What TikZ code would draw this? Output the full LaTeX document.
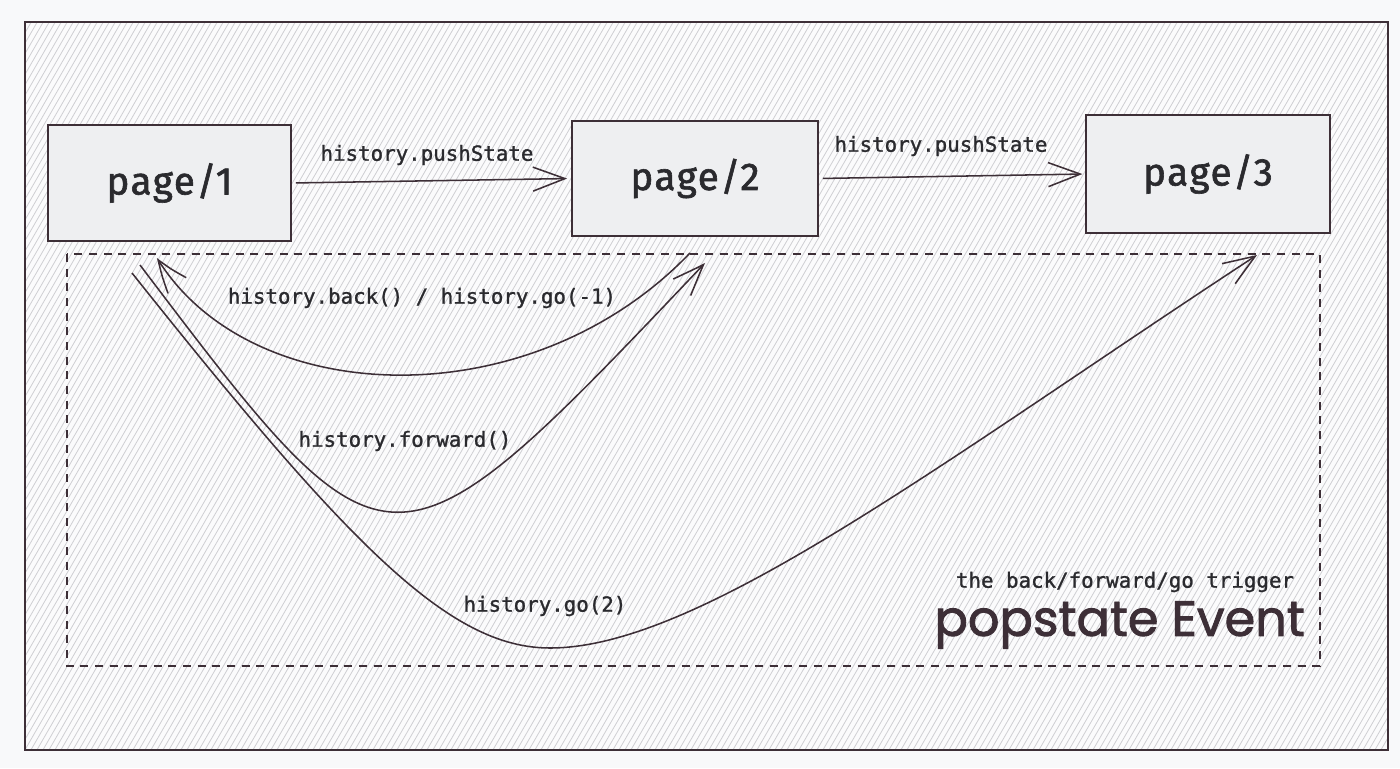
\documentclass[tikz,border=0pt]{standalone}
\usepackage{fontspec}
\usetikzlibrary{arrows.meta,bending}
\newfontfamily\monofont{DejaVu Sans Mono}[FakeBold=1.2]
\newfontfamily\pagefont{Fira Sans}[LetterSpace=4,FakeBold=1.6]
\newfontfamily\handfont{Poppins}[FakeBold=1.8]
\definecolor{ink}{HTML}{3D2F37}
\definecolor{txt}{HTML}{2A2A2E}
\definecolor{boxfill}{HTML}{EEEFF1}
\definecolor{hatchc}{HTML}{CFCFD3}
\definecolor{paper}{HTML}{F8F9FA}
\definecolor{innerc}{HTML}{FBFBFC}
\begin{document}
\begin{tikzpicture}[x=0.75pt,y=-0.75pt,
  pagebox/.style={draw=ink, line width=1.3pt, fill=boxfill, text=txt, inner sep=0pt,
    font=\pagefont\fontsize{29}{33}\selectfont},
  codelabel/.style={text=txt, inner sep=1pt, font=\monofont\fontsize{15.6}{18}\selectfont},
  arr/.style={ink, line width=1.15pt, -{Straight Barb[length=24pt,width=18pt,line width=1.15pt,bend]}},
  hatchline/.style={hatchc, line width=0.6pt},
  regionbox/.style={ink, line width=1pt, dash pattern=on 6pt off 5pt}
]
\useasboundingbox[fill=paper] (0,0) rectangle (1400,768);
% frame with hachure
\fill[innerc] (25,22) rectangle (1388,750);
\begin{scope}
  \clip (25,22) rectangle (1388,750);
  \foreach \i in {-440,-434,...,1390} \draw[hatchline] (\i,755) -- ++(425,-736);
\end{scope}
\draw[ink, line width=1.3pt] (25,22) rectangle (1388,750);

% dashed region
\draw[regionbox] (67,254) rectangle (1320,666);

% pages
\node[pagebox, minimum width=182.25pt, minimum height=87pt] (p1) at (169.5,183) {page/1};
\node[pagebox, minimum width=184.5pt, minimum height=86.25pt] (p2) at (695,178.5) {page/2};
\node[pagebox, minimum width=183pt, minimum height=88.5pt] (p3) at (1208,174) {page/3};

% pushState arrows
\draw[arr, shorten <=3pt, shorten >=3pt] (p1.east) -- (p2.west);
\draw[arr, shorten <=3pt, shorten >=2pt] (p2.east) -- (p3.west);
\node[codelabel] (l1) at (427,155) {history.pushState};
\node[codelabel] (l2) at (941,146) {history.pushState};

% endpoints near the pages
\coordinate (backstart) at (690,253);
\coordinate (backend) at (157,258);
\coordinate (fwdstart) at (140,265);
\coordinate (fwdend) at (705,263);
\coordinate (gostart) at (132,273);
\coordinate (goend) at (1257,255);
\coordinate (gobottom) at (550,648);

% back
\draw[arr] (backstart) .. controls (530,420) and (250,410) .. (backend);
\node[codelabel] (l3) at (422,298) {history.back() / history.go(-1)};
% forward
\draw[arr] (fwdstart) .. controls (390,595) and (390,595) .. (fwdend);
\node[codelabel] (l4) at (405,441) {history.forward()};
% go(2)
\draw[arr] (gostart) .. controls (351,548) and (450,648) .. (gobottom)
  .. controls (700,648) and (941,462) .. (goend);
\node[codelabel] (l5) at (545,606) {history.go(2)};

% popstate caption
\node[codelabel] (l6) at (1125,582) {the back/forward/go trigger};
\node[text=ink, inner sep=0pt, anchor=east, font=\handfont\fontsize{37}{42}\selectfont] (l7) at (1305,625) {popstate Event};
\end{tikzpicture}
\end{document}
